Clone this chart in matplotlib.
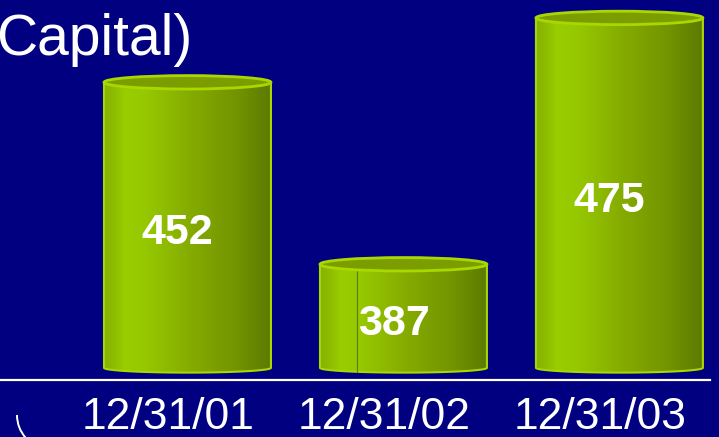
import numpy as np
import matplotlib.pyplot as plt
from matplotlib.colors import LinearSegmentedColormap
from matplotlib.patches import Ellipse, Polygon, Arc

plt.rcParams['font.family'] = ['Liberation Sans', 'DejaVu Sans']

# data
dates = ["12/31/01", "12/31/02", "12/31/03"]
values = [452, 387, 475]
base = 350
title_text = "Capital)"

bg = "#000080"
bar_w = 0.773
ry_top = 2.4
ry_bot = 1.7

body = LinearSegmentedColormap.from_list("body", [
    (0.00, "#86B200"), (0.06, "#8EBD00"), (0.12, "#99CC00"),
    (0.24, "#97C900"), (0.50, "#86AD00"), (0.80, "#729400"),
    (1.00, "#5C7A00")])

fig = plt.figure(figsize=(7.19, 4.37), dpi=100, facecolor=bg)
ax = fig.add_axes([0, 0, 1, 1])
ax.set_facecolor(bg)

grad = np.linspace(0, 1, 256).reshape(1, -1)
t = np.linspace(np.pi, 2 * np.pi, 60)

for i, v in enumerate(values):
    x0 = i - bar_w / 2
    x1 = i + bar_w / 2
    # body outline: bottom half ellipse + straight sides
    xs = i + bar_w / 2 * np.cos(t)
    ys = base + ry_bot * np.sin(t)
    verts = list(zip(xs, ys)) + [(x1, v), (x0, v)]
    shape = Polygon(verts, closed=True, facecolor="none",
                    edgecolor="#A8D800", lw=1.5, zorder=3)
    ax.add_patch(shape)
    im = ax.imshow(grad, cmap=body, extent=[x0, x1, base - ry_bot, v],
                   aspect="auto", interpolation="bilinear", zorder=2)
    im.set_clip_path(shape)
    if i == 1:
        ax.plot([x0 + 0.22 * bar_w] * 2, [base - ry_bot * 0.9, v - ry_top],
                color="#5E7A10", lw=0.8, zorder=3)
    # top cap
    ax.add_patch(Ellipse((i, v), bar_w, 2 * ry_top, facecolor="#7C9D00",
                         edgecolor="#A8D800", lw=2, zorder=4))
    ax.text(i - 0.046, (v + base) / 2 - 2.9, str(v), color="white",
            fontsize=31, fontweight="bold", ha="center", va="center", zorder=5)
    ax.text(i - 0.088, 332.3, dates[i], color="white", fontsize=32,
            ha="center", va="center", zorder=5)

ax.axhline(345.7, xmin=0, xmax=0.987, color="white", lw=1.6, zorder=1)

fig.text(-4 / 719, 1 - 55 / 437, title_text, color="white", fontsize=41,
         ha="left", va="baseline")

fig.patches.append(Arc((0.5125, 0.22), 0.685, 0.685, theta1=180, theta2=222,
                       color="white", lw=1.4, transform=fig.dpi_scale_trans))

ax.set_xlim(-0.868, 2.461)
ax.set_ylim(325.3, 481.4)
ax.axis("off")

fig.savefig("out.png", dpi=100, facecolor=bg)
